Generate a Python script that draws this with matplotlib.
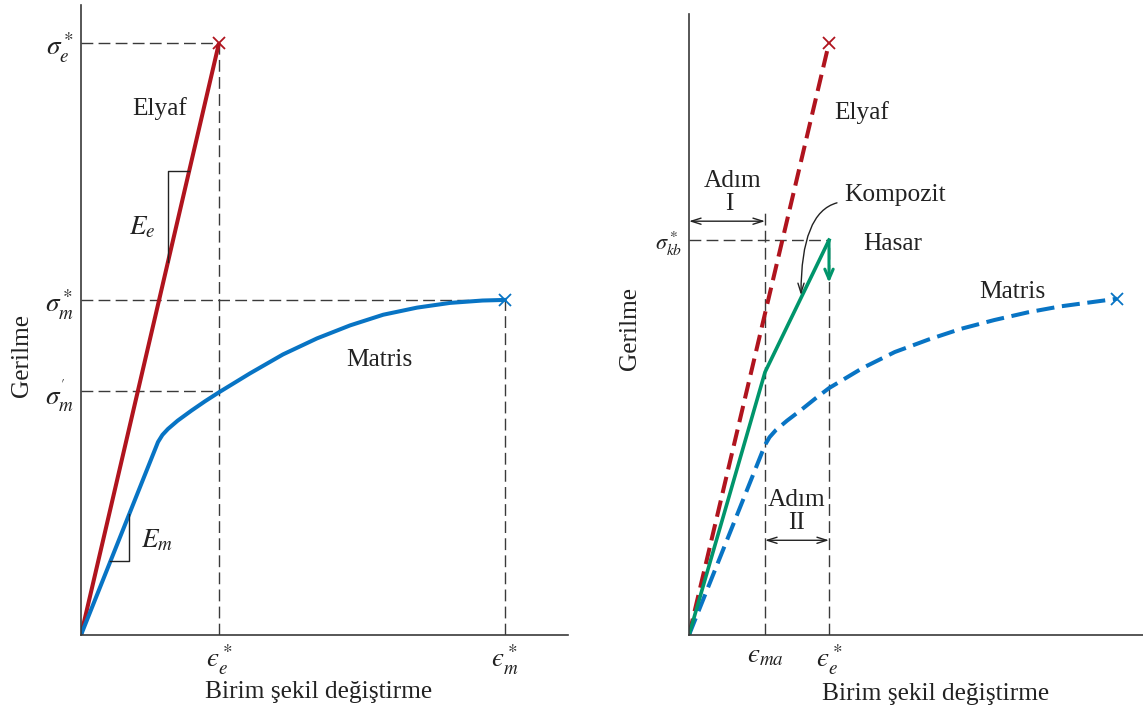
import matplotlib
matplotlib.use('Agg')
import matplotlib.pyplot as plt

plt.rcParams['font.family'] = ['Liberation Serif', 'DejaVu Serif']
plt.rcParams['mathtext.fontset'] = 'stix'
plt.rcParams['lines.scale_dashes'] = False

# ---- data (strain normalised by eps_e*, stress normalised by sigma_e*) ----
eps_e = 1.0
eps_m = 3.07
eps_ma = 0.543
sig_e = 1.0
sig_m = 0.566
sig_m1 = 0.412
sig_kb = 0.667
sig_drop = 0.595

fiber_x = [0.0, 1.0]
fiber_y = [0.0, 1.0]

matrix_left_x = [0.0, 0.558, 0.59, 0.63, 0.70, 0.80, 0.90, 1.0, 1.225, 1.464, 1.71, 1.95, 2.19,
                 2.435, 2.675, 2.91, 3.07]
matrix_left_y = [0.0, 0.326, 0.338, 0.348, 0.362, 0.379, 0.395, 0.410, 0.442, 0.474, 0.501, 0.523,
                 0.541, 0.553, 0.561, 0.565, 0.566]

matrix_right_x = [0.0, 0.543, 0.575, 0.62, 0.70, 0.80, 0.90, 1.0, 1.24, 1.47, 1.71, 1.94, 2.18,
                  2.42, 2.65, 2.90, 3.057]
matrix_right_y = [0.0, 0.321, 0.334, 0.346, 0.362, 0.380, 0.399, 0.417, 0.451, 0.478, 0.499, 0.517,
                  0.532, 0.545, 0.555, 0.563, 0.568]

comp_x = [0.0, 0.543, 1.0]
comp_y = [0.0, 0.444, 0.667]

Ee_tri_x = [0.784, 0.63, 0.63]
Ee_tri_y = [0.784, 0.784, 0.63]
Em_tri_x = [0.348, 0.348, 0.213]
Em_tri_y = [0.205, 0.125, 0.125]

RED = '#B0141E'
BLUE = '#0874C4'
GREEN = '#00956B'
DK = '#3a3a3a'
TXT = '#222222'
FS = 18.3
MFS = 19.5

fig = plt.figure(figsize=(11.43, 7.15), dpi=100)
W, H = 1143, 715

def make_axes(x0, y0, x1, y1):
    ax = fig.add_axes([x0 / W, (H - y0) / H, (x1 - x0) / W, (y0 - y1) / H])
    for s in ['top', 'right']:
        ax.spines[s].set_visible(False)
    for s in ['left', 'bottom']:
        ax.spines[s].set_color(DK)
        ax.spines[s].set_linewidth(1.2)
    ax.tick_params(length=0, colors=TXT)
    return ax

dash_kw = dict(color=DK, lw=1.0, dashes=(8.5, 3.8))

# ---------------- left panel ----------------
axL = make_axes(81, 635, 568, 5)
axL.set_xlim(0, 487 / 138)
axL.set_ylim(0, 630 / 592)

axL.plot([0, eps_e], [sig_e, sig_e], **dash_kw)
axL.plot([eps_e, eps_e], [0, sig_e], **dash_kw)
axL.plot([0, eps_m], [sig_m, sig_m], **dash_kw)
axL.plot([eps_m, eps_m], [0, sig_m], **dash_kw)
axL.plot([0, eps_e], [sig_m1, sig_m1], **dash_kw)

axL.plot(fiber_x, fiber_y, color=RED, lw=2.9, solid_capstyle='butt')
axL.plot(matrix_left_x, matrix_left_y, color=BLUE, lw=2.9, solid_joinstyle='round')
axL.plot([fiber_x[-1]], [fiber_y[-1]], 'x', color=RED, ms=8, mew=1.3, clip_on=False)
axL.plot([matrix_left_x[-1]], [matrix_left_y[-1]], 'x', color=BLUE, ms=8, mew=1.3, clip_on=False)

axL.plot(Ee_tri_x, Ee_tri_y, color=TXT, lw=1.0)
axL.plot(Em_tri_x, Em_tri_y, color=TXT, lw=1.0)

axL.text(0.572, 0.890, 'Elyaf', fontsize=FS, ha='center', va='center', color=TXT)
axL.text(0.442, 0.689, r'$E_e$', fontsize=MFS, ha='center', va='center', color=TXT)
axL.text(0.55, 0.160, r'$E_m$', fontsize=MFS, ha='center', va='center', color=TXT)
axL.text(2.159, 0.4645, 'Matris', fontsize=FS, ha='center', va='center', color=TXT)

axL.set_yticks([sig_e, sig_m, sig_m1])
axL.set_yticklabels([r'$\sigma_e^*$', r'$\sigma_m^*$', r"$\sigma_m^{'}$"], fontsize=MFS)
axL.set_xticks([eps_e, eps_m])
axL.set_xticklabels([r'$ϵ_e^*$', r'$ϵ_m^*$'], fontsize=MFS)
axL.tick_params(axis='y', pad=5)
axL.tick_params(axis='x', pad=6)

axL.set_ylabel('Gerilme', fontsize=FS, color=TXT)
axL.yaxis.set_label_coords(-0.098, 0.444)
axL.set_xlabel('Birim şekil değiştirme', fontsize=FS, color=TXT)
axL.xaxis.set_label_coords(0.487, -0.073)

# ---------------- right panel ----------------
axR = make_axes(689, 635, 1143, 14)
axR.set_xlim(0, 454 / 140)
axR.set_ylim(0, 621 / 592)

axR.plot([0, eps_e], [sig_kb, sig_kb], **dash_kw)
axR.plot([eps_ma, eps_ma], [0, 0.721], **dash_kw)
axR.plot([eps_e, eps_e], [0, sig_kb], **dash_kw)

axR.plot(fiber_x, fiber_y, color=RED, lw=2.9, dashes=(12, 5.5), dash_capstyle='butt')
axR.plot(matrix_right_x, matrix_right_y, color=BLUE, lw=2.9, dashes=(13, 5.5))
axR.plot(comp_x, comp_y, color=GREEN, lw=2.6, solid_joinstyle='miter')
axR.plot([fiber_x[-1]], [fiber_y[-1]], 'x', color=RED, ms=8, mew=1.3, clip_on=False)
axR.plot([matrix_right_x[-1]], [matrix_right_y[-1]], 'x', color=BLUE, ms=8, mew=1.3, clip_on=False)

axR.annotate('', xy=(eps_e, sig_drop), xytext=(eps_e, sig_kb),
             arrowprops=dict(arrowstyle='->,head_length=0.7,head_width=0.3', color=GREEN, lw=2.2,
                             shrinkA=0, shrinkB=0))

arr_kw = dict(arrowstyle='<->,head_length=0.7,head_width=0.22', color=TXT, lw=1.0,
              shrinkA=0, shrinkB=0)
axR.annotate('', xy=(0, 0.699), xytext=(eps_ma, 0.699), arrowprops=arr_kw)
axR.annotate('', xy=(eps_ma, 0.160), xytext=(eps_e, 0.160), arrowprops=arr_kw)

axR.annotate('', xy=(0.80, 0.574), xytext=(1.057, 0.730),
             arrowprops=dict(arrowstyle='->,head_length=0.7,head_width=0.22', color=TXT, lw=1.0,
                             shrinkA=0, shrinkB=0, connectionstyle='angle3,angleA=15,angleB=90'))

axR.text(1.236, 0.883, 'Elyaf', fontsize=FS, ha='center', va='center', color=TXT)
axR.text(0.314, 0.767, 'Adım', fontsize=FS, ha='center', va='center', color=TXT)
axR.text(0.286, 0.728, 'I', fontsize=FS, ha='center', va='center', color=TXT)
axR.text(1.11, 0.743, 'Kompozit', fontsize=FS, ha='left', va='center', color=TXT)
axR.text(1.457, 0.660, 'Hasar', fontsize=FS, ha='center', va='center', color=TXT)
axR.text(2.307, 0.579, 'Matris', fontsize=FS, ha='center', va='center', color=TXT)
axR.text(0.771, 0.228, 'Adım', fontsize=FS, ha='center', va='center', color=TXT)
axR.text(0.771, 0.190, 'II', fontsize=FS, ha='center', va='center', color=TXT)

axR.set_yticks([sig_kb])
axR.set_yticklabels([r'$\sigma_{kb}^*$'], fontsize=16)
axR.set_xticks([eps_ma, eps_e])
axR.set_xticklabels([r'$ϵ_{ma}$', r'$ϵ_e^*$'], fontsize=MFS)
axR.tick_params(axis='y', pad=5)
axR.tick_params(axis='x', pad=6)

axR.set_ylabel('Gerilme', fontsize=FS, color=TXT)
axR.yaxis.set_label_coords(-0.106, 0.494)
axR.set_xlabel('Birim şekil değiştirme', fontsize=FS, color=TXT)
axR.xaxis.set_label_coords(0.542, -0.077)

fig.savefig('out.png', dpi=100)
